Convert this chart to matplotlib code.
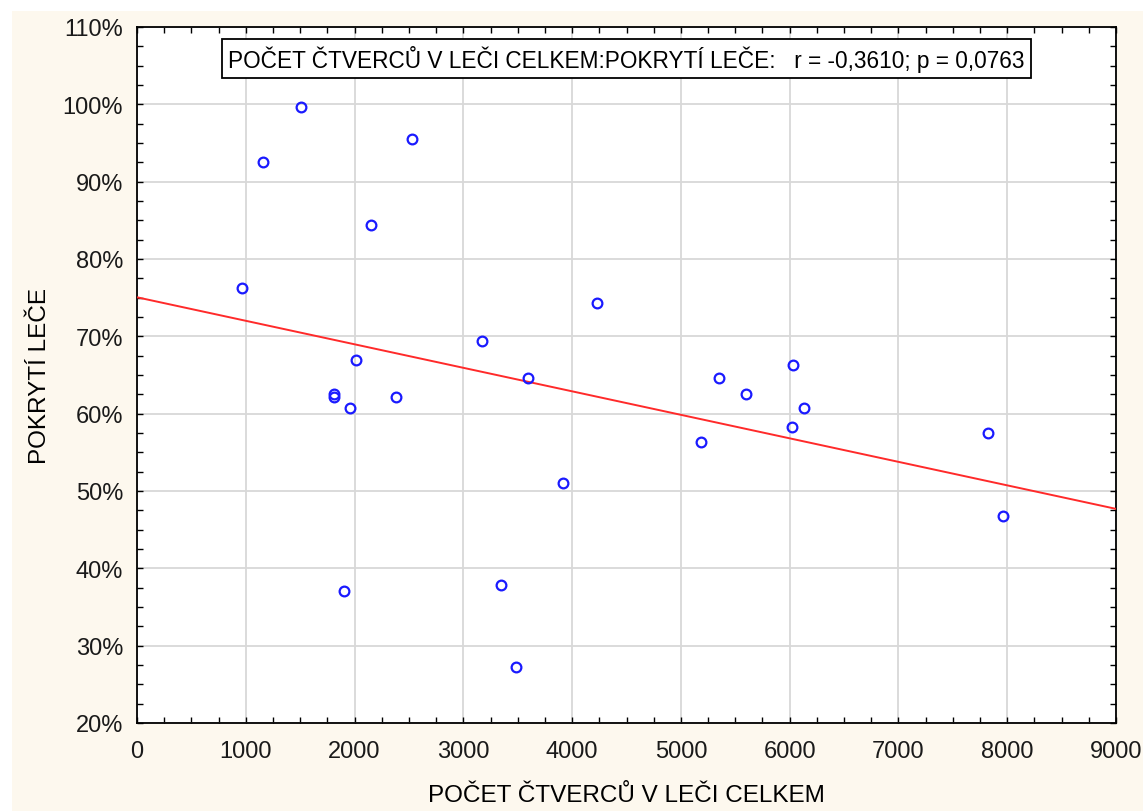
import matplotlib.pyplot as plt
from matplotlib.ticker import MultipleLocator, FuncFormatter
from matplotlib.patches import Rectangle
import numpy as np

plt.rcParams['font.family'] = ['Liberation Sans', 'DejaVu Sans']

# data
pocet_ctvercu = [968, 1161, 1505, 2531, 2151, 2013, 1814, 1814, 1955, 2378, 1906,
                 3175, 4226, 3591, 3913, 3343, 3481,
                 5353, 5598, 6033, 6135, 6018, 5185, 7820, 7958]
pokryti = [76.2, 92.6, 99.6, 95.5, 84.4, 66.9, 62.6, 62.2, 60.7, 62.1, 37.1,
           69.4, 74.3, 64.6, 51.0, 37.8, 27.2,
           64.6, 62.6, 66.3, 60.7, 58.3, 56.3, 57.5, 46.8]

# regression line
line_intercept = 75.05
line_slope = -0.00304

x_ticks = [0, 1000, 2000, 3000, 4000, 5000, 6000, 7000, 8000, 9000]
y_ticks = [20, 30, 40, 50, 60, 70, 80, 90, 100, 110]

legend_text = "POČET ČTVERCŮ V LEČI CELKEM:POKRYTÍ LEČE:   r = -0,3610; p = 0,0763"

fig = plt.figure(figsize=(11.43, 8.12), dpi=100, facecolor='white')
# cream panel behind the chart (screenshot border stays white)
fig.patches.append(Rectangle((12 / 1143, 0), 1, 1 - 12 / 812, transform=fig.transFigure,
                             facecolor='#fdf8ee', edgecolor='none', zorder=-10))

ax = fig.add_axes([137 / 1143, 1 - 724 / 812, (1116 - 137) / 1143, (724 - 28) / 812])
ax.set_facecolor('white')

ax.set_xlim(0, 9000)
ax.set_ylim(20, 110)
ax.set_xticks(x_ticks)
ax.set_yticks(y_ticks)
ax.xaxis.set_minor_locator(MultipleLocator(250))
ax.yaxis.set_minor_locator(MultipleLocator(2.5))
ax.yaxis.set_major_formatter(FuncFormatter(lambda v, p: f"{v:.0f}%"))

ax.grid(True, which='major', color='#d8d8d8', linewidth=1.3, zorder=0)
ax.tick_params(which='both', direction='in', top=True, right=True, length=4,
               width=1, labelsize=17, colors='black')
ax.tick_params(axis='x', pad=12)
ax.tick_params(axis='y', pad=10)
for lab in ax.get_xticklabels() + ax.get_yticklabels():
    lab.set_color('#1a1a1a')
for sp in ax.spines.values():
    sp.set_linewidth(1.3)
    sp.set_color('black')

xs = np.array([0, 9000])
ax.plot(xs, line_intercept + line_slope * xs, color='#ff2a2a', linewidth=1.4, zorder=3)

ax.plot(pocet_ctvercu, pokryti, linestyle='none', marker='o', markersize=7,
        markerfacecolor='none', markeredgecolor='#1a1aff', markeredgewidth=1.6, zorder=4)

ax.set_xlabel("POČET ČTVERCŮ V LEČI CELKEM", fontsize=17.5, labelpad=16)
ax.set_ylabel("POKRYTÍ LEČE", fontsize=17.5, labelpad=8)

ax.text(0.5, 0.955, legend_text, transform=ax.transAxes, ha='center', va='center',
        fontsize=16.3, zorder=6,
        bbox=dict(boxstyle='square,pad=0.27', facecolor='white', edgecolor='black', linewidth=1.3))

fig.savefig('out.png', dpi=100, facecolor=fig.get_facecolor())
